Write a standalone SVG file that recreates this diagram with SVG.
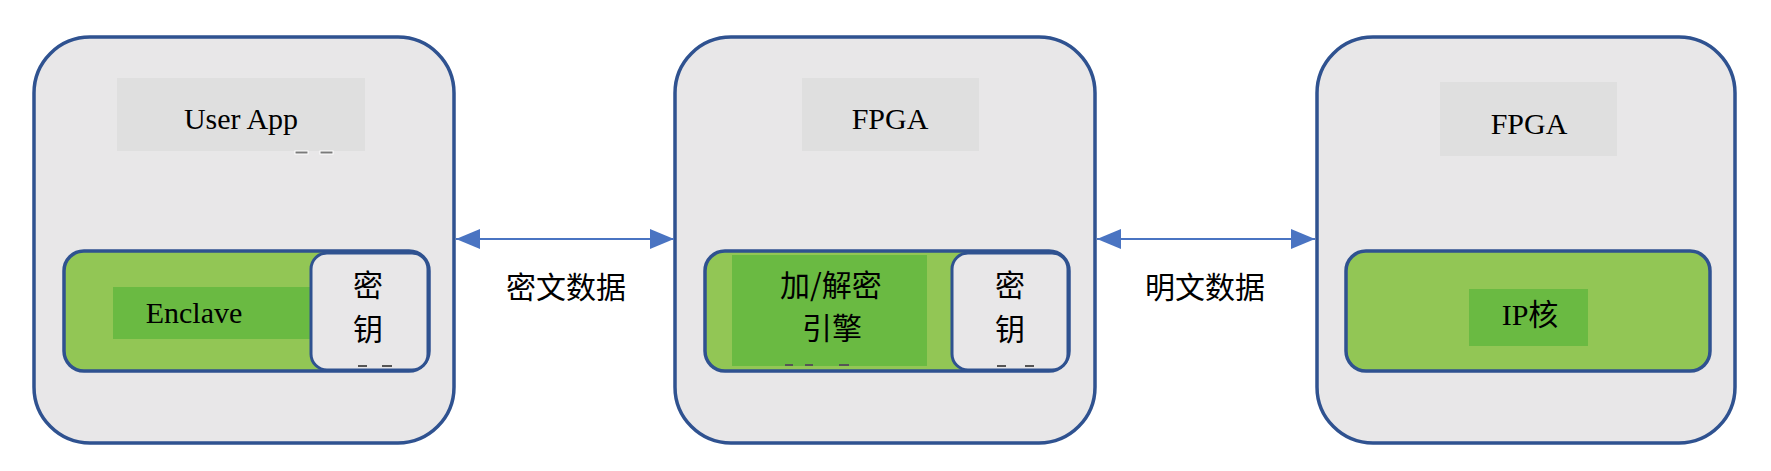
<svg xmlns="http://www.w3.org/2000/svg" width="1771" height="471" viewBox="0 0 1771 471">
<defs>
<style>
.outer{fill:#e8e7e8;stroke:#2f5290;stroke-width:3.5}
.lbl{fill:#dfdfdf}
.cont{fill:#92c655;stroke:#2f5290;stroke-width:3.5}
.dark{fill:#6aba42}
.key{fill:#e8e7e8;stroke:#2f5290;stroke-width:3}
.en{font-family:"Liberation Serif","Noto Sans CJK SC",serif;font-size:30px;fill:#000;text-anchor:middle}
.cn{font-family:"Noto Sans CJK SC",sans-serif;font-size:30px;fill:#000;text-anchor:middle}
.dash{fill:#7a7a7a;stroke:#ffffff;stroke-width:1}
.mark{fill:#555555}
.conn{stroke:#4a74c2;stroke-width:2;fill:none}
</style>
<marker id="ah" viewBox="0 0 24 20" refX="24" refY="10" markerWidth="24" markerHeight="20" markerUnits="userSpaceOnUse" orient="auto-start-reverse">
<path d="M0,0 L24,10 L0,20 Z" fill="#4a74c2"/>
</marker>
</defs>
<rect width="1771" height="471" fill="#ffffff"/>

<g id="node-userapp">
<rect class="outer" x="34" y="37" width="420" height="406" rx="56" ry="56"/>
<rect class="lbl" x="117" y="78" width="248" height="73"/>
<text class="en" x="241" y="129">User App</text>
<rect class="dash" x="295" y="151" width="13" height="3"/>
<rect class="dash" x="320" y="151" width="13" height="3"/>
<g id="node-enclave">
<rect class="cont" x="64" y="251" width="365" height="120" rx="20" ry="20"/>
<rect class="dark" x="113" y="287" width="198" height="52"/>
<text class="en" x="194" y="323">Enclave</text>
</g>
<g id="node-key1">
<rect class="key" x="311" y="253" width="117" height="117" rx="16" ry="16"/>
<text class="cn" x="368" y="296">密</text>
<text class="cn" x="368" y="340">钥</text>
<rect class="mark" x="358" y="365" width="9" height="2"/>
<rect class="mark" x="382" y="365" width="10" height="2"/>
</g>
</g>

<g id="node-fpga1">
<rect class="outer" x="675" y="37" width="420" height="406" rx="56" ry="56"/>
<rect class="lbl" x="802" y="78" width="177" height="73"/>
<text class="en" x="890" y="129">FPGA</text>
<g id="node-engine">
<rect class="cont" x="705" y="251" width="364" height="120" rx="20" ry="20"/>
<rect class="dark" x="732" y="255" width="195" height="111"/>
<text class="cn" x="831" y="296">加/解密</text>
<text class="cn" x="832" y="339">引擎</text>
<rect class="mark" x="785" y="364" width="8" height="2"/>
<rect class="mark" x="805" y="364" width="8" height="2"/>
<rect class="mark" x="839" y="364" width="10" height="2"/>
</g>
<g id="node-key2">
<rect class="key" x="952" y="253" width="116" height="117" rx="16" ry="16"/>
<text class="cn" x="1010" y="296">密</text>
<text class="cn" x="1010" y="340">钥</text>
<rect class="mark" x="997" y="365" width="9" height="2"/>
<rect class="mark" x="1025" y="365" width="9" height="2"/>
</g>
</g>

<g id="node-fpga2">
<rect class="outer" x="1317" y="37" width="418" height="406" rx="56" ry="56"/>
<rect class="lbl" x="1440" y="82" width="177" height="74"/>
<text class="en" x="1529" y="134">FPGA</text>
<g id="node-ip">
<rect class="cont" x="1346" y="251" width="364" height="120" rx="20" ry="20"/>
<rect class="dark" x="1469" y="289" width="119" height="57"/>
<text class="en" x="1530" y="325">IP核</text>
</g>
</g>

<g id="connectors">
<line class="conn" x1="456" y1="239" x2="674" y2="239" marker-start="url(#ah)" marker-end="url(#ah)"/>
<line class="conn" x1="1097" y1="239" x2="1315" y2="239" marker-start="url(#ah)" marker-end="url(#ah)"/>
<text class="cn" x="566" y="298">密文数据</text>
<text class="cn" x="1205" y="298">明文数据</text>
</g>
</svg>
